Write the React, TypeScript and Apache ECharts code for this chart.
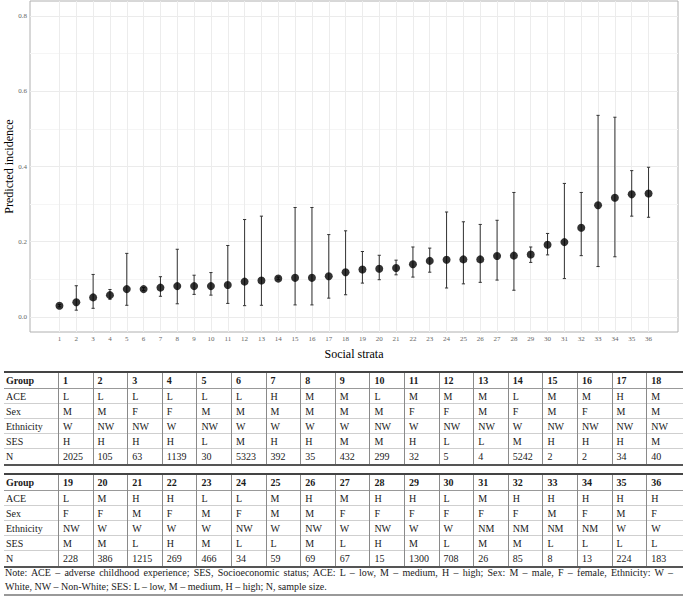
import { useEffect, useRef } from "react";
import * as echarts from "echarts";

// social strata 1..36
const strata = Array.from({ length: 36 }, (_, i) => i + 1);
const incidence = [
  0.030, 0.039, 0.052, 0.058, 0.074, 0.074, 0.078, 0.082, 0.082, 0.082, 0.085, 0.094,
  0.097, 0.102, 0.104, 0.104, 0.108, 0.119, 0.126, 0.128, 0.130, 0.140, 0.149, 0.152,
  0.153, 0.153, 0.162, 0.163, 0.166, 0.192, 0.199, 0.237, 0.297, 0.317, 0.326, 0.328,
];
const lower = [
  0.027, 0.018, 0.023, 0.047, 0.031, 0.070, 0.055, 0.035, 0.060, 0.058, 0.036, 0.030,
  0.031, 0.099, 0.032, 0.032, 0.050, 0.059, 0.090, 0.099, 0.112, 0.106, 0.119, 0.077,
  0.088, 0.092, 0.098, 0.071, 0.145, 0.165, 0.102, 0.163, 0.134, 0.160, 0.268, 0.265,
];
const upper = [
  0.033, 0.083, 0.113, 0.073, 0.169, 0.078, 0.107, 0.180, 0.111, 0.118, 0.190, 0.259,
  0.268, 0.106, 0.291, 0.291, 0.219, 0.229, 0.174, 0.164, 0.151, 0.186, 0.183, 0.279,
  0.253, 0.246, 0.257, 0.331, 0.186, 0.222, 0.355, 0.331, 0.536, 0.531, 0.389, 0.398,
];
const yMajor = [0, 0.2, 0.4, 0.6, 0.8];
const yGrid = [0, 0.1, 0.2, 0.3, 0.4, 0.5, 0.6, 0.7, 0.8];

// table
const ace = "L L L L L L H M M L M M M L M M H M L M H H L L M H M H H L M H H H H H".split(" ");
const sex = "M M F F M M M M M M F F M F M F M M F F M F M F M M F F F F F F M F M F".split(" ");
const ethnicity = "W NW NW W NW W W W W NW W NW NW W NW NW NW NW NW W W W W NW W NW W NW W W NM NM NM NM W W".split(" ");
const ses = "H H H H L M H H M M H L L M H H H M M M L H M L L M L H M L M M L L L L".split(" ");
const sampleN = [
  2025, 105, 63, 1139, 30, 5323, 392, 35, 432, 299, 32, 5, 4, 5242, 2, 2, 34, 40,
  228, 386, 1215, 269, 466, 34, 59, 69, 67, 15, 1300, 708, 26, 85, 8, 13, 224, 183,
];
const noteLines = [
  "Note: ACE \u2013 adverse childhood experience; SES, Socioeconomic status; ACE: L \u2013 low, M \u2013 medium, H \u2013 high; Sex: M \u2013 male, F \u2013 female, Ethnicity: W \u2013",
  "White, NW \u2013 Non-White; SES: L \u2013 low, M \u2013 medium, H \u2013 high; N, sample size.",
];

const FONT = "Liberation Serif, Times New Roman, Times, serif";

function Chart() {
  const ref = useRef<HTMLDivElement>(null);
  useEffect(() => {
    if (!ref.current) return;
    const chart = echarts.init(ref.current, undefined, { renderer: "svg" });
    chart.setOption({
      animation: false,
      textStyle: { fontFamily: FONT },
      grid: {
        left: 30,
        top: 1,
        width: 648,
        height: 331,
        show: true,
        borderColor: "#b0b0b0",
        borderWidth: 1,
        containLabel: false,
        outerBoundsMode: "none",
      },
      xAxis: {
        type: "value",
        min: -0.75,
        max: 37.75,
        name: "Social strata",
        nameLocation: "middle",
        nameGap: 16,
        nameMoveOverlap: false,
        nameTextStyle: { fontSize: 12, color: "#000", fontFamily: FONT },
        axisLine: { show: false },
        axisTick: { show: false, customValues: strata },
        axisLabel: { customValues: strata, fontSize: 7, color: "#666", margin: 3, fontFamily: FONT },
        splitLine: { show: true, lineStyle: { color: "#ececec", width: 1 } },
      },
      yAxis: {
        type: "value",
        min: -0.04,
        max: 0.84,
        name: "Predicted incidence",
        nameLocation: "middle",
        nameGap: 15,
        nameMoveOverlap: false,
        nameTextStyle: { fontSize: 12, color: "#000", fontFamily: FONT },
        axisLine: { show: false },
        axisTick: { show: false, customValues: yGrid },
        axisLabel: {
          customValues: yMajor,
          fontSize: 7,
          color: "#666",
          margin: 3,
          fontFamily: FONT,
          formatter: (v: number) => v.toFixed(1),
        },
        splitLine: { show: true, lineStyle: { color: ["#ebebeb", "#f5f5f5"], width: 1 } },
      },
      series: [
        {
          type: "custom",
          data: strata.map((s, i) => [s, lower[i], upper[i]]),
          renderItem: (_params: any, api: any) => {
            const x = api.value(0);
            const lo = api.coord([x, api.value(1)]);
            const hi = api.coord([x, api.value(2)]);
            const style = { stroke: "#333", lineWidth: 1 };
            return {
              type: "group",
              children: [
                { type: "line", shape: { x1: lo[0], y1: lo[1], x2: hi[0], y2: hi[1] }, style },
                { type: "line", shape: { x1: lo[0] - 1.6, y1: lo[1], x2: lo[0] + 1.6, y2: lo[1] }, style },
                { type: "line", shape: { x1: hi[0] - 1.6, y1: hi[1], x2: hi[0] + 1.6, y2: hi[1] }, style },
              ],
            };
          },
          z: 2,
        },
        {
          type: "scatter",
          data: strata.map((s, i) => [s, incidence[i]]),
          symbol: "circle",
          symbolSize: 8,
          itemStyle: { color: "#000" },
          z: 3,
        },
      ],
    });
    return () => chart.dispose();
  }, []);
  return <div ref={ref} style={{ position: "absolute", left: 0, top: 0, width: 685, height: 368 }} />;
}

const COL0 = 54;
const COLW = 34.6;

function Block({ top, start }: { top: number; start: number }) {
  const idx = Array.from({ length: 18 }, (_, i) => start + i);
  const rows: { label: string; cells: (string | number)[]; bold?: boolean }[] = [
    { label: "Group", cells: idx.map((i) => strata[i]), bold: true },
    { label: "ACE", cells: idx.map((i) => ace[i]) },
    { label: "Sex", cells: idx.map((i) => sex[i]) },
    { label: "Ethnicity", cells: idx.map((i) => ethnicity[i]) },
    { label: "SES", cells: idx.map((i) => ses[i]) },
    { label: "N", cells: idx.map((i) => sampleN[i]) },
  ];
  const heights = [16, 15, 15, 15, 15, 15];
  let y = 2;
  return (
    <div style={{ position: "absolute", left: 4, top, width: 679, height: 95 }}>
      <div style={{ position: "absolute", left: 0, top: 0, width: 679, height: 2, background: "#444" }} />
      {rows.map((r, ri) => {
        const h = heights[ri];
        const rowTop = y;
        y += h;
        return (
          <div key={r.label} style={{ position: "absolute", left: 0, top: rowTop, width: 679, height: h }}>
            {ri < rows.length - 1 && (
              <div
                style={{
                  position: "absolute",
                  left: 0,
                  bottom: 0,
                  width: 679,
                  height: 1,
                  background: ri === 0 ? "#999" : "#cfcfcf",
                }}
              />
            )}
            <div
              style={{
                position: "absolute",
                left: 2,
                top: 0,
                width: COL0,
                height: h,
                lineHeight: `${h}px`,
                fontWeight: r.bold ? "bold" : "normal",
              }}
            >
              {r.label}
            </div>
            {r.cells.map((c, ci) => (
              <div
                key={ci}
                style={{
                  position: "absolute",
                  left: COL0 + ci * COLW,
                  top: 0,
                  width: COLW,
                  height: h,
                  lineHeight: `${h}px`,
                  paddingLeft: 4,
                  boxSizing: "border-box",
                  borderLeft: "1px solid #8a8a8a",
                  fontWeight: r.bold ? "bold" : "normal",
                }}
              >
                {c}
              </div>
            ))}
          </div>
        );
      })}
      <div style={{ position: "absolute", left: 0, top: y, width: 679, height: 1.5, background: "#555" }} />
    </div>
  );
}

export default function App() {
  return (
    <div
      style={{
        position: "absolute",
        left: 0,
        top: 0,
        width: 685,
        height: 598,
        background: "#fff",
        fontFamily: FONT,
        fontSize: 10,
        color: "#1a1a1a",
        overflow: "hidden",
      }}
    >
      <Chart />
      <Block top={371} start={0} />
      <Block top={473} start={18} />
      <div style={{ position: "absolute", left: 5, top: 566, width: 668, lineHeight: "14px" }}>
        <div style={{ textAlign: "justify", textAlignLast: "justify", whiteSpace: "nowrap" as any }}>{noteLines[0]}</div>
        <div>{noteLines[1]}</div>
      </div>
      <div style={{ position: "absolute", left: 4, top: 594, width: 679, height: 2, background: "#999" }} />
    </div>
  );
}
